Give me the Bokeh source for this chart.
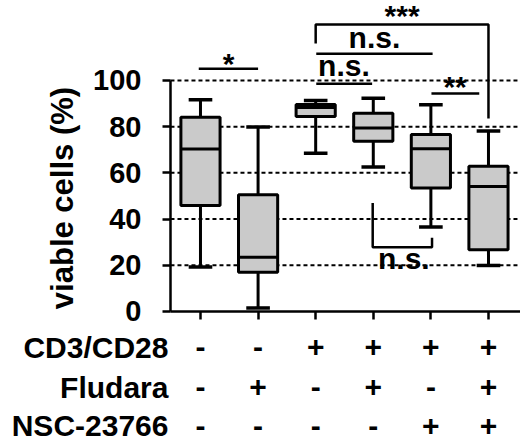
#===========================
#       Built-In Imports
from math import pi

#===========================
#       Bokeh-Related Imports
from bokeh.core.properties import value
from bokeh.embed import file_html
from bokeh.models import ColumnDataSource, FixedTicker, Range1d
from bokeh.plotting import figure
from bokeh.resources import INLINE

#-- data (viable cells, %)
positions = [1, 2, 3, 4, 5, 6]
lower = [19.2, 1.5, 68.5, 62.5, 36.5, 19.9]
q1 = [45.9, 17.0, 84.4, 73.7, 53.4, 26.7]
median = [70.3, 23.5, 88.3, 79.4, 70.4, 54.1]
q3 = [84.1, 50.5, 89.6, 85.8, 76.6, 62.9]
upper = [91.6, 79.8, 91.3, 92.3, 89.5, 78.1]

#-- treatment table under the x axis
row_names = ["CD3/CD28", "Fludara", "NSC-23766"]
cd3 = ["-", "-", "+", "+", "+", "+"]
fludara = ["-", "+", "-", "+", "-", "+"]
nsc = ["-", "-", "-", "-", "+", "+"]

y_ticks = [0, 20, 40, 60, 80, 100]
grid_levels = [20, 40, 60, 80, 100]

#-- significance marks: (xs, ys, label, label_x, label_y)
sig_marks = [
    ([0.97, 2.0], [105.1, 105.1], "*", 1.49, 107.5),
    ([3.0, 3.0, 6.0, 6.0], [116.0, 124.2, 124.2, 83.5], "***", 4.5, 128.1),
    ([3.01, 5.03], [111.6, 111.6], "n.s.", 4.02, 118.7),
    ([3.01, 3.98], [98.6, 98.6], "n.s.", 3.49, 106.5),
    ([5.01, 5.84], [94.3, 94.3], "**", 5.42, 97.4),
    ([3.99, 3.99, 5.02, 5.02], [46.9, 27.8, 27.8, 31.9], "n.s.", 4.53, 22.9),
]

FONT = value("Liberation Sans")
BOX_W = 0.68
CAP_W = 0.41
AXIS_X = 0.479
X_END = 6.556

p = figure(
    width=520,
    height=441,
    x_range=Range1d(-2.472, X_END),
    y_range=Range1d(-56.3, 134.6),
    output_backend="svg",
    toolbar_location=None,
    min_border=0,
)
p.outline_line_color = None
p.xgrid.visible = False
p.ygrid.visible = False
p.background_fill_color = "white"

#-- dashed grid lines from the y axis to the right edge
p.segment(x0=AXIS_X, x1=X_END, y0=grid_levels, y1=grid_levels,
          line_color="black", line_width=2, line_dash="4 3")

#-- boxes
src = ColumnDataSource(dict(x=positions, lower=lower, q1=q1, median=median, q3=q3, upper=upper,
                            cl=[v - CAP_W / 2 for v in positions], cr=[v + CAP_W / 2 for v in positions],
                            bl=[v - BOX_W / 2 for v in positions], br=[v + BOX_W / 2 for v in positions]))
p.segment(x0="x", x1="x", y0="q3", y1="upper", source=src, line_color="black", line_width=3)
p.segment(x0="x", x1="x", y0="lower", y1="q1", source=src, line_color="black", line_width=3)
p.segment(x0="cl", x1="cr", y0="upper", y1="upper", source=src, line_color="black", line_width=3.5)
p.segment(x0="cl", x1="cr", y0="lower", y1="lower", source=src, line_color="black", line_width=3.5)
p.vbar(x="x", width=BOX_W, bottom="q1", top="q3", source=src,
       fill_color="#cacaca", line_color="black", line_width=3)
p.segment(x0="bl", x1="br", y0="median", y1="median", source=src, line_color="black", line_width=3)

#-- significance brackets and labels
p.multi_line(xs=[m[0] for m in sig_marks], ys=[m[1] for m in sig_marks],
             line_color="black", line_width=2.5)
p.text(x=[m[3] for m in sig_marks], y=[m[4] for m in sig_marks], text=[m[2] for m in sig_marks],
       text_font=FONT, text_font_style="bold", text_font_size="30px",
       text_align="center", text_baseline="alphabetic", text_color="black")

#-- axes placed inside the frame
p.yaxis.fixed_location = AXIS_X
p.yaxis.bounds = (0, 100)
p.yaxis.ticker = FixedTicker(ticks=y_ticks)
p.yaxis.minor_tick_line_color = None
p.yaxis.major_tick_in = 0
p.yaxis.major_tick_out = 8
p.yaxis.major_label_standoff = 21
p.yaxis.major_label_text_font = "Liberation Sans"
p.yaxis.major_label_text_font_style = "bold"
p.yaxis.major_label_text_font_size = "29px"
p.yaxis.major_label_text_color = "black"

p.xaxis.fixed_location = 0
p.xaxis.bounds = (AXIS_X, X_END)
p.xaxis.ticker = FixedTicker(ticks=positions)
p.xaxis.minor_tick_line_color = None
p.xaxis.major_tick_in = 0
p.xaxis.major_tick_out = 8
p.xaxis.major_label_overrides = {v: "" for v in positions}

for ax in (p.xaxis, p.yaxis):
    ax.axis_line_color = "black"
    ax.axis_line_width = 2.5
    ax.major_tick_line_color = "black"
    ax.major_tick_line_width = 2.5

#-- y axis title
p.text(x=[-1.4], y=[49.1], text=["viable cells (%)"], angle=pi / 2,
       text_font=FONT, text_font_style="bold", text_font_size="31px",
       text_align="center", text_baseline="middle", text_color="black")

#-- treatment table
row_y = [-15.6, -32.9, -49.4]
p.text(x=[0.444] * 3, y=row_y, text=row_names,
       text_font=FONT, text_font_style="bold", text_font_size="30px",
       text_align="right", text_baseline="alphabetic", text_color="black")
for signs, ry in zip([cd3, fludara, nsc], row_y):
    p.text(x=positions, y=[ry] * len(positions), text=signs,
           text_font=FONT, text_font_style="bold", text_font_size="30px",
           text_align="center", text_baseline="alphabetic", text_color="black")

open("out.html", "w").write(file_html(p, INLINE))
